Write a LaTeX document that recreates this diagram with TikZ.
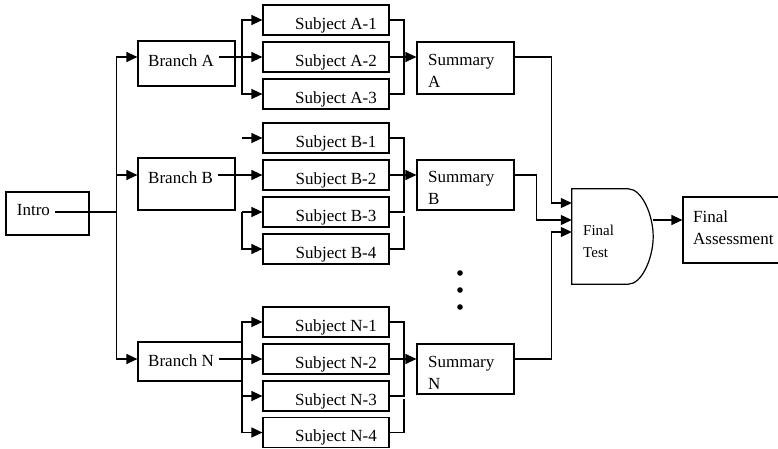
\documentclass[tikz,border=0pt]{standalone}
\usepackage{fontspec}
\setmainfont{Liberation Serif}
\usetikzlibrary{arrows.meta,calc}
\newcommand\fbig{\fontsize{17}{21.5}\selectfont}
\newcommand\fsmall{\fontsize{15}{22}\selectfont}
\begin{document}
\begin{tikzpicture}[x=1pt,y=-1pt,
  ln/.style={line width=1.2pt},
  box/.style={draw, line width=1.2pt, inner sep=0pt, anchor=center},
  subj/.style={box, minimum width=126pt, minimum height=30pt, font=\fbig, text height=18pt, text depth=0pt},
  lbl/.style={font=\fbig, inner xsep=5pt, inner ysep=0pt, anchor=base west},
  mlbl/.style={font=\fbig, inner sep=0pt, anchor=north west, align=left},
  arr/.style={ln, -{Triangle[length=11pt,width=10pt]}},
  dot/.style={circle, fill, inner sep=0pt, minimum size=5.6pt}
]
\path[fill=white] (0,0) rectangle (778,448);
\useasboundingbox (0,0) rectangle (778,448);

% Intro
\node[box, minimum width=83pt, minimum height=43pt] (intro) at (47.5,213.5) {};
\node[lbl] (tI) at (11.7,215) {Intro};
\coordinate (jI) at (116.5,212);

% Branches
\node[box, minimum width=97pt, minimum height=45pt] (bA) at (186.5,63.5) {};
\node[lbl] (tA) at (143,66) {Branch A};
\node[box, minimum width=97pt, minimum height=52pt] (bB) at (186.5,184) {};
\node[lbl] (tB) at (143,183) {Branch B};
\node[box, minimum width=104pt, minimum height=39pt] (bN) at (190,361.5) {};
\node[lbl] (tN) at (143,366) {Branch N};

% Subjects
\node[subj] (sA1) at (326,20) {\hspace*{20pt}Subject A-1};
\node[subj] (sA2) at (326,57) {\hspace*{20pt}Subject A-2};
\node[subj] (sA3) at (326,94) {\hspace*{20pt}Subject A-3};
\node[subj] (sB1) at (326,138) {\hspace*{20pt}Subject B-1};
\node[subj] (sB2) at (326,175) {\hspace*{20pt}Subject B-2};
\node[subj] (sB3) at (326,212) {\hspace*{20pt}Subject B-3};
\node[subj] (sB4) at (326,249) {\hspace*{20pt}Subject B-4};
\node[subj] (sN1) at (326,322) {\hspace*{20pt}Subject N-1};
\node[subj] (sN2) at (326,359) {\hspace*{20pt}Subject N-2};
\node[subj] (sN3) at (326,396) {\hspace*{20pt}Subject N-3};
\node[subj] (sN4) at (326,432.5) {\hspace*{20pt}Subject N-4};

% Summaries
\node[box, minimum width=97pt, minimum height=52pt] (mA) at (465.5,68) {};
\node[mlbl] (tmA) at (428,54.5) {Summary\\A};
\node[box, minimum width=97pt, minimum height=50pt] (mB) at (465.5,185) {};
\node[mlbl] (tmB) at (428,171.5) {Summary\\B};
\node[box, minimum width=97pt, minimum height=50pt] (mN) at (465.5,369) {};
\node[mlbl] (tmN) at (428,356.5) {Summary\\N};

% dots
\node[dot] (d1) at (460,273) {};
\node[dot] (d2) at (460,290) {};
\node[dot] (d3) at (460,307) {};

% Final test
\node[inner sep=0pt, minimum width=81pt, minimum height=95pt] (ft) at (612.5,236.5) {};
\draw[ln] (ft.south west) -- (ft.north west) -- ($(ft.north east)+(-25,0)$)
  .. controls ($(ft.north east)+(-11.2,0)$) and ($(ft.east)+(0,-21.2)$) .. (ft.east)
  .. controls ($(ft.east)+(0,21.2)$) and ($(ft.south east)+(-11.2,0)$) .. ($(ft.south east)+(-25,0)$)
  -- cycle;
\node[mlbl, font=\fsmall] (tft) at (583,224.5) {Final\\Test};

% Final assessment
\node[box, minimum width=96pt, minimum height=66pt] (fa) at (731,230) {};
\node[mlbl] (tfa) at (693,210.8) {Final\\Assessment};

% connectors
\coordinate (lx) at (242,0);
\coordinate (rx) at (404,0);
\draw[ln] (tI.east |- jI) -- (jI);
\draw[arr] (jI) |- (bA.west |- sA2.west);
\draw[arr] (jI) |- (bB.west |- sB2.west);
\draw[arr] (jI) |- (bN.west |- sN2.west);

\draw[arr] (tA.east |- sA2.west) -- (sA2.west);
\draw[arr] (sA2.west -| lx) |- (sA1.west);
\draw[arr] (sA2.west -| lx) |- (sA3.west);

\draw[arr] (sB1.west -| lx) -- (sB1.west);
\draw[arr] (tB.east |- sB2.west) -- (sB2.west);
\draw[arr] (sB3.west -| lx) -- (sB3.west);
\draw[arr] (sB3.west -| lx) |- (sB4.west);

\draw[arr] (tN.east |- sN2.west) -- (sN2.west);
\draw[arr] (sN2.west -| lx) |- (sN1.west);
\draw[arr] (sN2.west -| lx) |- (sN3.west);
\draw[arr] (sN2.west -| lx) |- (sN4.west);

\draw[ln] (sA1.east) -| (sA3.east -| rx) -- (sA3.east);
\draw[arr] (sA2.east) -- (mA.west |- sA2.east);
\draw[ln] (sB1.east) -| (sB3.east -| rx) -- (sB3.east);
\draw[ln] (sB4.east) -| ($(sB3.east -| rx)+(0,4)$);
\draw[arr] (sB2.east) -- (mB.west |- sB2.east);
\draw[ln] (sN1.east) -| (sN3.east -| rx) -- (sN3.east);
\draw[ln] (sN4.east) -| ($(sN3.east -| rx)+(0,3)$);
\draw[arr] (sN2.east) -- (mN.west |- sN2.east);

\coordinate (in1) at ($(ft.west)+(0,-33.5)$);
\coordinate (in2) at ($(ft.west)+(0,-16.5)$);
\coordinate (in3) at ($(ft.west)+(0,-4.5)$);
\draw[arr] (mA.east |- sA2.east) -- ++(37,0) |- (in1);
\draw[arr] (mB.east |- sB2.east) -- ++(22,0) |- (in2);
\draw[arr] (mN.east |- sN2.east) -- ++(37,0) |- (in3);
\draw[arr] (ft.east |- in2) -- (fa.west |- in2);
\end{tikzpicture}
\end{document}
